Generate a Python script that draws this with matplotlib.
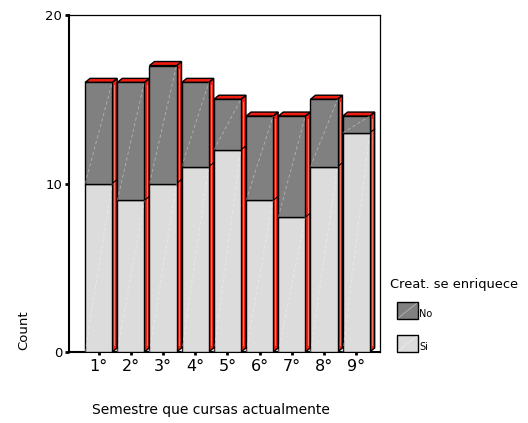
import numpy as np
import matplotlib.pyplot as plt
from matplotlib.patches import Rectangle

semestres = ['1°', '2°', '3°', '4°', '5°', '6°', '7°', '8°', '9°']
si = [10, 9, 10, 11, 12, 9, 8, 11, 13]
no = [6, 7, 7, 5, 3, 5, 6, 4, 1]

plt.rcParams['font.family'] = ['DejaVu Sans']

fig = plt.figure(figsize=(5.28, 4.23), dpi=100)
ax = fig.add_axes([0.1307, 0.1678, 0.589, 0.7967])

x = np.arange(len(semestres))
width = 0.84
dx, dy = 0.155, 0.24
c_si = '#dcdcdc'
c_no = '#808080'
c_red = '#f21d10'

ax.bar(x, si, width, color=c_si, edgecolor='black', linewidth=1.0, zorder=3)
ax.bar(x, no, width, bottom=si, color=c_no, edgecolor='black', linewidth=1.0, zorder=3)

for i in range(len(x)):
    r = x[i] + width / 2
    l = x[i] - width / 2
    top = si[i] + no[i]
    # faint diagonal shine on each front segment
    ax.plot([l, r], [0, si[i]], color='white', lw=0.6, ls=(0, (4, 3)), alpha=0.4, zorder=4)
    ax.plot([l, r], [si[i], top], color='white', lw=0.6, ls=(0, (4, 3)), alpha=0.4, zorder=4)
    # right side
    ax.fill([r, r + dx, r + dx, r], [0, dy, top + dy, top],
            facecolor=c_red, edgecolor='black', linewidth=1.0, zorder=2)
    ax.plot([r + dx * 0.45, r + dx * 0.45], [dy * 0.5 + 0.3, top + dy * 0.5 - 0.3],
            color='#ff7060', lw=0.8, zorder=2)
    ax.plot([r, r + dx], [si[i], si[i] + dy], color='black', lw=0.8, zorder=2)
    # top face
    ax.fill([l, r, r + dx, l + dx], [top, top, top + dy, top + dy],
            facecolor=c_red, edgecolor='black', linewidth=1.0, zorder=2)

ax.set_xlim(-0.92, 8.74)
ax.set_ylim(0, 20)
ax.set_yticks([0, 10, 20])
ax.set_yticklabels(['0', '10', '20'], fontsize=9.5)
ax.set_xticks(x)
ax.set_xticklabels(semestres, fontsize=11.5)
ax.tick_params(axis='y', length=3, width=2, pad=2)
ax.tick_params(axis='x', length=2, width=2, pad=3)
for s in ax.spines.values():
    s.set_linewidth(0.9)
ax.spines['left'].set_linewidth(1.5)
ax.spines['bottom'].set_linewidth(1.5)

fig.text(0.045, 0.22, 'Count', rotation=90, fontsize=9.5, ha='center', va='center')
fig.text(0.40, 0.03, 'Semestre que cursas actualmente', fontsize=10, ha='center', va='center')

# legend
fig.text(0.739, 0.328, 'Creat. se enriquece', fontsize=9.4, ha='left', va='center')
lx, lw_, lh = 0.752, 0.040, 0.040
for yy, col, lab in [(0.246, c_no, 'No'), (0.168, c_si, 'Si')]:
    fig.patches.append(Rectangle((lx, yy), lw_, lh, transform=fig.transFigure,
                                 facecolor=col, edgecolor='black', linewidth=1.0))
    fig.lines.append(plt.Line2D([lx + 0.003, lx + lw_ - 0.003], [yy + 0.003, yy + lh - 0.003],
                                transform=fig.transFigure, color='white', lw=0.5, alpha=0.5))
    fig.text(lx + lw_ + 0.002, yy + 0.012, lab, fontsize=7, ha='left', va='center')

fig.savefig('out.png', dpi=100)
